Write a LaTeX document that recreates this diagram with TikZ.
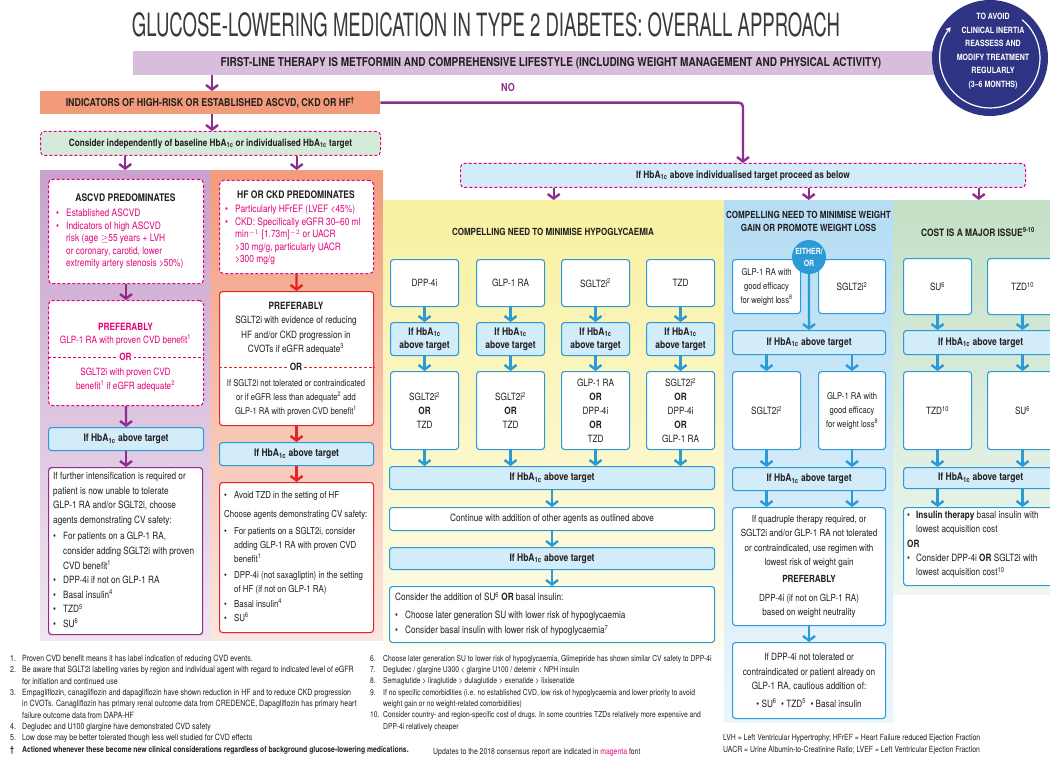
\documentclass[tikz,border=0pt]{standalone}
\usepackage{fontspec}
\setmainfont{TeX Gyre Heros}[FakeStretch=0.82]
\newfontfamily\titlefont{TeX Gyre Heros}[FakeStretch=0.58]
\usetikzlibrary{arrows.meta,calc}
\definecolor{cblue}{HTML}{2B9AD6}
\definecolor{lblue}{HTML}{D3ECF9}
\definecolor{cpurp}{HTML}{8E2D8C}
\definecolor{cmag}{HTML}{E5007D}
\definecolor{cred}{HTML}{E42528}
\definecolor{corange}{HTML}{F29A79}
\definecolor{cbanner}{HTML}{D9BDDC}
\definecolor{cnavy}{HTML}{2F3384}
\definecolor{cgreen}{HTML}{D4EBDA}
\definecolor{ctext}{HTML}{231F20}
\definecolor{ctitle}{HTML}{3A3A3A}
\definecolor{cpt}{HTML}{C8A1CC}\definecolor{cpb}{HTML}{F1E5F2}
\definecolor{cot}{HTML}{F29B7D}\definecolor{cob}{HTML}{FBE7E1}
\definecolor{cyt}{HTML}{F8F1A0}\definecolor{cyb}{HTML}{FDFCEA}
\definecolor{cbt}{HTML}{B5DDF4}\definecolor{cbb}{HTML}{EAF6FC}
\definecolor{cgt}{HTML}{C3E0C6}\definecolor{cgb}{HTML}{EFF7F0}
\newcommand{\hba}{HbA\textsubscript{1c}}
\newcommand{\sps}[1]{\textsuperscript{#1}}
\newcommand{\fsz}[2]{\fontsize{#1}{#2}\selectfont}
\newcommand{\bl}{\makebox[10pt][l]{\textbullet}}
\newcommand{\ind}{\hspace*{10pt}}
\begin{document}
\begin{tikzpicture}[x=1pt,y=-1pt, font=\fsz{10}{14}, text=ctext,
  box/.style={draw=cblue, line width=1.1pt, fill=white, rounded corners=3pt, inner sep=0pt, align=center, anchor=north west},
  hbox/.style={box, fill=lblue, font=\bfseries\fsz{10.4}{13}},
  dbox/.style={draw=cmag, line width=1pt, dash pattern=on 3pt off 2pt, fill=white, rounded corners=4pt, inner sep=0pt, anchor=north west},
  panel/.style={inner sep=0pt, anchor=north west},
  barr/.style={draw=cblue, line width=2.4pt, -{Straight Barb[length=4.5pt,width=12pt]}},
  parr/.style={barr, draw=cpurp},
  rarr/.style={barr, draw=cred},
  txt/.style={inner sep=0pt, align=center},
  ltxt/.style={inner sep=0pt, align=left, anchor=north west}]
\useasboundingbox (0,0) rectangle (1050,757);
\clip (0,0) rectangle (1050,757);
\fill[white] (0,0) rectangle (1050,757);

% ---------- header ----------
\node[txt, text=ctitle, font=\titlefont\fsz{32}{34}] (title) at (486,25) {GLUCOSE-LOWERING MEDICATION IN TYPE 2 DIABETES: OVERALL APPROACH};
\node[panel, fill=cbanner, minimum width=812pt, minimum height=24pt] (banner) at (133,51) {};
\node[txt, font=\bfseries\fsz{12.2}{13}] (bantext) at (551,63) {FIRST-LINE THERAPY IS METFORMIN AND COMPREHENSIVE LIFESTYLE (INCLUDING WEIGHT MANAGEMENT AND PHYSICAL ACTIVITY)};
\node[circle, fill=cnavy, minimum size=116pt, inner sep=0pt] (circ) at (990,58) {};
\draw[white, line width=1.2pt, -{Stealth[length=5pt,width=6pt]}] ($(circ.center)+(-50:50)$) arc[start angle=-50, end angle=218, radius=50];
\node[txt, text=white, font=\bfseries\fsz{8.6}{13.5}] (circtext) at (993,51) {TO AVOID\\CLINICAL INERTIA\\REASSESS AND\\MODIFY TREATMENT\\REGULARLY\\(3--6 MONTHS)};

\node[panel, fill=corange, minimum width=340pt, minimum height=23pt, font=\bfseries\fsz{10.8}{11}] (risk) at (40,91) {INDICATORS OF HIGH-RISK OR ESTABLISHED ASCVD, CKD OR HF\sps{\dag}};
\node[txt, text=cpurp, font=\bfseries\fsz{11}{12}] (nolab) at (508,87) {NO};
\node[dbox, fill=cgreen, minimum width=340pt, minimum height=24pt, font=\bfseries\fsz{10}{11}] (indep) at (40,131) {Consider independently of baseline \hba{} or individualised \hba{} target};
\node[dbox, fill=lblue, minimum width=565pt, minimum height=24pt, font=\bfseries\fsz{10.2}{11}] (topblue) at (460,163) {If \hba{} above individualised target proceed as below};

\draw[parr] (banner.south -| 212,0) -- (risk.north -| 212,0);
\draw[parr] (risk.south -| 212,0) -- (indep.north -| 212,0);
\draw[parr, rounded corners=4pt] (risk.east) -| (topblue.north);

% ---------- panels ----------
\node[panel, top color=cpt, bottom color=cpb, minimum width=170pt, minimum height=470pt] (ppurp) at (40,170) {};
\node[panel, top color=cot, bottom color=cob, minimum width=173pt, minimum height=470pt] (porange) at (210,170) {};
\node[panel, top color=cyt, bottom color=cyb, minimum width=341pt, minimum height=447pt] (pyellow) at (383,200) {};
\node[panel, top color=cbt, bottom color=cbb, minimum width=169pt, minimum height=522pt] (pblue) at (724,200) {};
\node[panel, top color=cgt, bottom color=cgb, minimum width=171pt, minimum height=394pt] (pgreen) at (893,200) {};

\draw[parr] (ppurp.north |- indep.south) -- (ppurp.north);
\draw[parr] (porange.north |- indep.south) -- (porange.north);
\draw[parr] (pyellow.north |- topblue.south) -- (pyellow.north);
\draw[parr] (pblue.north |- topblue.south) -- (pblue.north);
\draw[parr] (pgreen.north |- topblue.south) -- (pgreen.north);

% ---------- ASCVD column ----------
\node[dbox, minimum width=155pt, minimum height=104pt] (ascvd) at (48,179) {};
\node[txt, font=\bfseries\fsz{10.4}{12}] (asct) at (125.5,198) {ASCVD PREDOMINATES};
\node[ltxt, text=cmag, font=\fsz{10.2}{12.5}] (ascb) at (56,209) {\bl Established ASCVD\\\bl Indicators of high ASCVD\\\ind risk (age $\geq$55 years + LVH\\\ind or coronary, carotid, lower\\\ind extremity artery stenosis >50\%)};
\node[dbox, minimum width=155pt, minimum height=105pt] (pref1) at (48,300) {};
\node[txt, text=cmag, font=\bfseries] (p1a) at (125.5,327) {PREFERABLY};
\node[txt, text=cmag] (p1b) at (125.5,340) {GLP-1 RA with proven CVD benefit\sps{1}};
\coordinate (or1y) at (0,357);
\draw[cmag, line width=1pt, dash pattern=on 3pt off 2pt] (pref1.west |- or1y) -- (pref1.east |- or1y);
\node[txt, fill=white, inner sep=2pt, text=cmag, font=\bfseries] (or1) at (125.5,357) {OR};
\node[txt, text=cmag] (p1c) at (125.5,379.5) {SGLT2i with proven CVD\\benefit\sps{1} if eGFR adequate\sps{2}};
\node[hbox, minimum width=155pt, minimum height=23pt] (h1) at (48,427) {If \hba{} above target};
\node[box, draw=cpurp, line width=1.2pt, minimum width=154pt, minimum height=167pt] (big1) at (48,467) {};
\node[ltxt, font=\fsz{10}{14.6}] (big1t) at (53,472) {If further intensification is required or\\patient is now unable to tolerate\\GLP-1 RA and/or SGLT2i, choose\\agents demonstrating CV safety:\\[2pt]\bl For patients on a GLP-1 RA,\\\ind consider adding SGLT2i with proven\\\ind CVD benefit\sps{1}\\\bl DPP-4i if not on GLP-1 RA\\\bl Basal insulin\sps{4}\\\bl TZD\sps{5}\\\bl SU\sps{6}};
\draw[parr] (ascvd.south) -- (pref1.north);
\draw[parr] (pref1.south) -- (h1.north);
\draw[parr] (h1.south) -- (big1.north -| h1.south);

% ---------- HF column ----------
\node[dbox, minimum width=154pt, minimum height=93pt] (hf) at (219,180) {};
\node[txt, font=\bfseries\fsz{10.4}{12}] (hft) at (296,195) {HF OR CKD PREDOMINATES};
\node[ltxt, text=cmag, font=\fsz{10.2}{12.5}] (hfb) at (225,205) {\bl Particularly HFrEF (LVEF <45\%)\\\bl CKD: Specifically eGFR 30--60 ml\\\ind min\sps{$-1$} [1.73m]\sps{$-2$} or UACR\\\ind >30 mg/g, particularly UACR\\\ind >300 mg/g};
\node[box, draw=cred, minimum width=154pt, minimum height=134pt] (pref2) at (219,291) {};
\node[txt, font=\fsz{10}{14.3}] (p2a) at (296,328.5) {\textbf{PREFERABLY}\\SGLT2i with evidence of reducing\\HF and/or CKD progression in\\CVOTs if eGFR adequate\sps{3}};
\coordinate (or2y) at (0,367);
\draw[cred, line width=1pt, dash pattern=on 3pt off 2pt] (pref2.west |- or2y) -- (pref2.east |- or2y);
\node[txt, fill=white, inner sep=2pt, font=\bfseries] (or2) at (296,367) {OR};
\node[txt, font=\fsz{9.3}{14}] (p2b) at (296,398) {If SGLT2i not tolerated or contraindicated\\or if eGFR less than adequate\sps{2} add\\GLP-1 RA with proven CVD benefit\sps{1}};
\node[hbox, minimum width=154pt, minimum height=23pt] (h2) at (219,442) {If \hba{} above target};
\node[box, draw=cred, minimum width=154pt, minimum height=150pt] (big2) at (219,482) {};
\node[ltxt, font=\fsz{9.6}{14}] (big2t) at (224,491) {\bl Avoid TZD in the setting of HF\\[5pt]Choose agents demonstrating CV safety:\\[3pt]\bl For patients on a SGLT2i, consider\\\ind adding GLP-1 RA with proven CVD\\\ind benefit\sps{1}\\[2pt]\bl DPP-4i (not saxagliptin) in the setting\\\ind of HF (if not on GLP-1 RA)\\[1pt]\bl Basal insulin\sps{4}\\\bl SU\sps{6}};
\draw[rarr] (hf.south) -- (pref2.north);
\draw[rarr] (pref2.south) -- (h2.north);
\draw[rarr] (h2.south) -- (big2.north);

% ---------- hypoglycaemia column ----------
\node[txt, font=\bfseries\fsz{9.8}{12}] (hyt) at (553,232) {COMPELLING NEED TO MINIMISE HYPOGLYCAEMIA};
\node[box, minimum width=68pt, minimum height=47pt] (d1) at (390,259) {DPP-4i};
\node[box, minimum width=68pt, minimum height=47pt] (d2) at (476,259) {GLP-1 RA};
\node[box, minimum width=68pt, minimum height=47pt] (d3) at (561,259) {SGLT2i\sps{2}};
\node[box, minimum width=68pt, minimum height=47pt] (d4) at (646,259) {TZD};
\node[hbox, minimum width=68pt, minimum height=33pt] (hh1) at (390,322) {If \hba{}\\above target};
\node[hbox, minimum width=68pt, minimum height=33pt] (hh2) at (476,322) {If \hba{}\\above target};
\node[hbox, minimum width=68pt, minimum height=33pt] (hh3) at (561,322) {If \hba{}\\above target};
\node[hbox, minimum width=68pt, minimum height=33pt] (hh4) at (646,322) {If \hba{}\\above target};
\node[box, minimum width=68pt, minimum height=78pt] (r1) at (390,371) {SGLT2i\sps{2}\\\textbf{OR}\\TZD};
\node[box, minimum width=68pt, minimum height=78pt] (r2) at (476,371) {SGLT2i\sps{2}\\\textbf{OR}\\TZD};
\node[box, minimum width=68pt, minimum height=78pt] (r3) at (561,371) {GLP-1 RA\\\textbf{OR}\\DPP-4i\\\textbf{OR}\\TZD};
\node[box, minimum width=68pt, minimum height=78pt] (r4) at (646,371) {SGLT2i\sps{2}\\\textbf{OR}\\DPP-4i\\\textbf{OR}\\GLP-1 RA};
\node[hbox, minimum width=325pt, minimum height=23pt] (hw1) at (389,466) {If \hba{} above target};
\node[box, minimum width=325pt, minimum height=23pt] (cont) at (389,507) {Continue with addition of other agents as outlined above};
\node[hbox, minimum width=325pt, minimum height=22pt] (hw2) at (389,547) {If \hba{} above target};
\node[box, minimum width=325pt, minimum height=56pt] (fin3) at (389,586) {};
\node[ltxt, font=\fsz{10}{15}] (fin3t) at (395,592) {Consider the addition of SU\sps{6} \textbf{OR} basal insulin:\\[3pt]\bl Choose later generation SU with lower risk of hypoglycaemia\\\bl Consider basal insulin with lower risk of hypoglycaemia\sps{7}};
\foreach \i in {1,2,3,4}{
  \draw[barr] (d\i.south) -- (hh\i.north);
  \draw[barr] (hh\i.south) -- (r\i.north);
  \draw[barr] (r\i.south) -- (r\i.south |- hw1.north);
}
\draw[barr] (hw1.south) -- (cont.north);
\draw[barr] (cont.south) -- (hw2.north);
\draw[barr] (hw2.south) -- (fin3.north);

% ---------- weight column ----------
\node[txt, font=\bfseries\fsz{9.8}{13}] (wt) at (808.5,221.5) {COMPELLING NEED TO MINIMISE WEIGHT\\GAIN OR PROMOTE WEIGHT LOSS};
\node[box, minimum width=68pt, minimum height=54pt, font=\fsz{9.3}{14}] (w1) at (732,259) {GLP-1 RA with\\good efficacy\\for weight loss\sps{8}};
\node[box, minimum width=67pt, minimum height=54pt] (w2) at (818,259) {SGLT2i\sps{2}};
\node[circle, fill=cblue, minimum size=34pt, inner sep=0pt, text=white, align=center, font=\bfseries\fsz{8.5}{12}] (either) at (809,257) {EITHER/\\OR};
\node[hbox, minimum width=153pt, minimum height=24pt] (wh1) at (732,330) {If \hba{} above target};
\node[box, minimum width=68pt, minimum height=78pt] (w3) at (732,371) {SGLT2i\sps{2}};
\node[box, minimum width=67pt, minimum height=78pt, font=\fsz{9.3}{14}] (w4) at (818,371) {GLP-1 RA with\\good efficacy\\for weight loss\sps{8}};
\node[hbox, minimum width=153pt, minimum height=23pt] (wh2) at (732,467) {If \hba{} above target};
\node[box, minimum width=153pt, minimum height=118pt, font=\fsz{9.8}{14.3}] (w5) at (732,507) {If quadruple therapy required, or\\SGLT2i and/or GLP-1 RA not tolerated\\or contraindicated, use regimen with\\lowest risk of weight gain\\[3pt]\textbf{PREFERABLY}\\[4pt]DPP-4i (if not on GLP-1 RA)\\based on weight neutrality};
\node[box, minimum width=153pt, minimum height=76pt, font=\fsz{10}{14.5}] (w6) at (732,642) {If DPP-4i not tolerated or\\contraindicated or patient already on\\GLP-1 RA, cautious addition of:\\[3pt]\textbullet\ SU\sps{6}\ \ \textbullet\ TZD\sps{5}\ \ \textbullet\ Basal insulin};
\draw[barr] (either.south) -- (wh1.north);
\draw[barr] (w3.north |- wh1.south) -- (w3.north);
\draw[barr] (w4.north |- wh1.south) -- (w4.north);
\draw[barr] (w3.south) -- (w3.south |- wh2.north);
\draw[barr] (w4.south) -- (w4.south |- wh2.north);
\draw[barr] (w3.south |- wh2.south) -- (w3.south |- w5.north);
\draw[barr] (w4.south |- wh2.south) -- (w4.south |- w5.north);
\draw[barr] (w5.south) -- (w6.north);

% ---------- cost column ----------
\node[txt, font=\bfseries\fsz{10.2}{12}] (ct) at (978,232) {COST IS A MAJOR ISSUE\sps{9-10}};
\node[box, minimum width=68pt, minimum height=56pt] (c1) at (903,258) {SU\sps{6}};
\node[box, minimum width=70pt, minimum height=56pt] (c2) at (987,258) {TZD\sps{10}};
\node[hbox, minimum width=154pt, minimum height=24pt] (ch1) at (903,330) {If \hba{} above target};
\node[box, minimum width=68pt, minimum height=78pt] (c3) at (903,371) {TZD\sps{10}};
\node[box, minimum width=70pt, minimum height=78pt] (c4) at (987,371) {SU\sps{6}};
\node[hbox, minimum width=154pt, minimum height=21pt] (ch2) at (903,467) {If \hba{} above target};
\node[box, minimum width=154pt, minimum height=78pt] (c5) at (903,507) {};
\node[ltxt, font=\fsz{10}{14.3}] (c5t) at (907,511) {\makebox[9pt][l]{\textbullet}\textbf{Insulin therapy} basal insulin with\\\hspace*{9pt}lowest acquisition cost\\\textbf{OR}\\\makebox[9pt][l]{\textbullet}Consider DPP-4i \textbf{OR} SGLT2i with\\\hspace*{9pt}lowest acquisition cost\sps{10}};
\draw[barr] (c1.south) -- (c1.south |- ch1.north);
\draw[barr] (c2.south) -- (c2.south |- ch1.north);
\draw[barr] (c3.north |- ch1.south) -- (c3.north);
\draw[barr] (c4.north |- ch1.south) -- (c4.north);
\draw[barr] (c3.south) -- (c3.south |- ch2.north);
\draw[barr] (c4.south) -- (c4.south |- ch2.north);
\draw[barr] (c3.south |- ch2.south) -- (c3.south |- c5.north);
\draw[barr] (c4.south |- ch2.south) -- (c4.south |- c5.north);

% ---------- footnotes ----------
\node[ltxt, font=\fsz{8.6}{11.3}] (fnl) at (10,655) {\makebox[12pt][l]{1.}Proven CVD benefit means it has label indication of reducing CVD events.\\\makebox[12pt][l]{2.}Be aware that SGLT2i labelling varies by region and individual agent with regard to indicated level of eGFR\\\hspace*{12pt}for initiation and continued use\\\makebox[12pt][l]{3.}Empagliflozin, canagliflozin and dapagliflozin have shown reduction in HF and to reduce CKD progression\\\hspace*{12pt}in CVOTs. Canagliflozin has primary renal outcome data from CREDENCE, Dapagliflozin has primary heart\\\hspace*{12pt}failure outcome data from DAPA-HF\\\makebox[12pt][l]{4.}Degludec and U100 glargine have demonstrated CVD safety\\\makebox[12pt][l]{5.}Low dose may be better tolerated though less well studied for CVD effects\\\makebox[12pt][l]{\textbf{\dag}}{\fsz{8.3}{11.3}\textbf{Actioned whenever these become new clinical considerations regardless of background glucose-lowering medications.}}};
\node[ltxt, font=\fsz{8.2}{11.3}] (fnm) at (370,655) {\makebox[13pt][l]{6.}Choose later generation SU to lower risk of hypoglycaemia, Glimepiride has shown similar CV safety to DPP-4i\\\makebox[13pt][l]{7.}Degludec / glargine U300 < glargine U100 / detemir < NPH insulin\\\makebox[13pt][l]{8.}Semaglutide > liraglutide > dulaglutide > exenatide > lixisenatide\\\makebox[13pt][l]{9.}If no specific comorbidities (i.e. no established CVD, low risk of hypoglycaemia and lower priority to avoid\\\hspace*{13pt}weight gain or no weight-related comorbidities)\\\makebox[13pt][l]{10.}Consider country- and region-specific cost of drugs. In some countries TZDs relatively more expensive and\\\hspace*{13pt}DPP-4i relatively cheaper};
\node[inner sep=0pt, anchor=west, font=\fsz{8.4}{10}] (upd) at (433,752) {Updates to the 2018 consensus report are indicated in \textcolor{cmag}{magenta} font};
\node[ltxt, font=\fsz{8.4}{12}] (abbr) at (723,734) {LVH = Left Ventricular Hypertrophy; HFrEF = Heart Failure reduced Ejection Fraction\\UACR = Urine Albumin-to-Creatinine Ratio; LVEF = Left Ventricular Ejection Fraction};
\end{tikzpicture}
\end{document}
